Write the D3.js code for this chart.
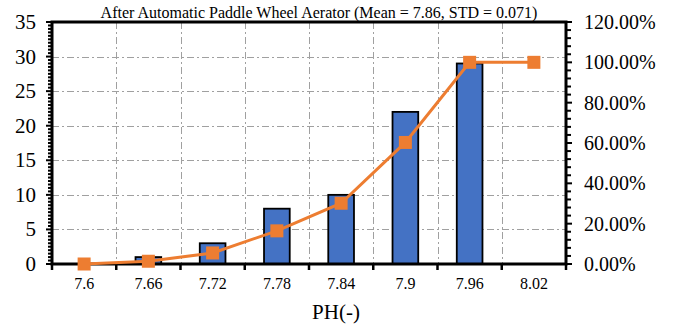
<!DOCTYPE html>
<html>
<head>
<meta charset="utf-8">
<script src="https://cdn.jsdelivr.net/npm/d3@7/dist/d3.min.js"></script>
<style>
  html, body { margin: 0; padding: 0; background: #fff; }
  svg { display: block; }
  text { font-family: "Liberation Serif", "Times New Roman", serif; fill: #000; }
</style>
</head>
<body>
<svg id="chart" width="673" height="324"></svg>
<script>
// pH histogram with cumulative percentage
const categories = ["7.6", "7.66", "7.72", "7.78", "7.84", "7.9", "7.96", "8.02"];
const counts = [0, 1, 3, 8, 10, 22, 29, 0];
const cumulativePct = [0, 1.37, 5.48, 16.44, 30.14, 60.27, 100, 100];
const leftTicks = [0, 5, 10, 15, 20, 25, 30, 35];
const rightTicks = [0, 20, 40, 60, 80, 100, 120];
const titleText = "After Automatic Paddle Wheel Aerator (Mean = 7.86, STD = 0.071)";
const xTitle = "PH(-)";

const svg = d3.select("#chart");
const m = { left: 52, right: 566, top: 22, bottom: 264 };

const x = d3.scaleBand().domain(categories).range([m.left, m.right]).paddingInner(0).paddingOuter(0);
const yL = d3.scaleLinear().domain([0, 35]).range([m.bottom, m.top]);
const yR = d3.scaleLinear().domain([0, 120]).range([m.bottom, m.top]);

const grid = svg.append("g").attr("stroke", "#a0a0a0").attr("stroke-width", 1)
  .attr("stroke-dasharray", "7,3,2,3").attr("fill", "none");
// horizontal grid
leftTicks.filter(v => v > 0 && v < 35).forEach(v => {
  grid.append("line").attr("x1", m.left).attr("x2", m.right)
    .attr("y1", Math.round(yL(v)) + 0.5).attr("y2", Math.round(yL(v)) + 0.5);
});
// vertical grid at category boundaries
categories.slice(1).forEach(c => {
  const gx = Math.round(x(c)) + 0.5;
  grid.append("line").attr("x1", gx).attr("x2", gx).attr("y1", m.top).attr("y2", m.bottom);
});

// bars
const barW = x.bandwidth() * 0.4;
svg.append("g").selectAll("rect").data(counts).join("rect")
  .attr("x", (d, i) => x(categories[i]) + (x.bandwidth() - barW) / 2)
  .attr("y", d => yL(d))
  .attr("width", barW)
  .attr("height", d => yL(0) - yL(d))
  .attr("fill", "#4472C4")
  .attr("stroke", d => d > 0 ? "#000" : "none")
  .attr("stroke-width", 1.8);

// left axis: minor/major ticks
const axL = svg.append("g");
d3.range(0, 35.01, 0.5).forEach(v => {
  const major = v % 5 === 0;
  axL.append("line").attr("x1", m.left).attr("x2", m.left - (major ? 6 : 4))
    .attr("y1", yL(v)).attr("y2", yL(v)).attr("stroke", "#000").attr("stroke-width", 2);
});
axL.selectAll("text").data(leftTicks).join("text")
  .attr("x", 36).attr("y", d => yL(d) + 7)
  .attr("text-anchor", "end").attr("font-size", 21).text(d => d);

// right axis ticks
const axR = svg.append("g");
d3.range(0, 120.01, 4).forEach(v => {
  const major = v % 20 === 0;
  axR.append("line").attr("x1", m.right).attr("x2", m.right + (major ? 6 : 5))
    .attr("y1", yR(v)).attr("y2", yR(v)).attr("stroke", "#000").attr("stroke-width", 2);
});
axR.selectAll("text").data(rightTicks).join("text")
  .attr("x", 584).attr("y", d => yR(d) + 7)
  .attr("text-anchor", "start").attr("font-size", 20).text(d => d.toFixed(2) + "%");

// bottom ticks at category boundaries
const axB = svg.append("g");
const bounds = categories.map(c => x(c)).concat([m.right]);
bounds.forEach(bx => {
  axB.append("line").attr("x1", bx).attr("x2", bx).attr("y1", m.bottom).attr("y2", m.bottom + 6)
    .attr("stroke", "#000").attr("stroke-width", 2.5);
});
axB.selectAll("text").data(categories).join("text")
  .attr("x", d => x(d) + x.bandwidth() / 2).attr("y", 289)
  .attr("text-anchor", "middle").attr("font-size", 16).text(d => d);

// frame
svg.append("rect").attr("x", m.left).attr("y", m.top)
  .attr("width", m.right - m.left).attr("height", m.bottom - m.top)
  .attr("fill", "none").attr("stroke", "#000").attr("stroke-width", 3);

// cumulative line
const lineGen = d3.line()
  .x((d, i) => x(categories[i]) + x.bandwidth() / 2)
  .y(d => yR(d));
svg.append("path").datum(cumulativePct).attr("d", lineGen)
  .attr("fill", "none").attr("stroke", "#ED7D31").attr("stroke-width", 3);
const ms = 13;
svg.append("g").selectAll("rect").data(cumulativePct).join("rect")
  .attr("x", (d, i) => x(categories[i]) + x.bandwidth() / 2 - ms / 2)
  .attr("y", d => yR(d) - ms / 2)
  .attr("width", ms).attr("height", ms)
  .attr("fill", "#ED7D31");

// titles
svg.append("text").attr("x", 319).attr("y", 18).attr("text-anchor", "middle")
  .attr("font-size", 16).text(titleText);
svg.append("text").attr("x", 336).attr("y", 319).attr("text-anchor", "middle")
  .attr("font-size", 21).text(xTitle);
</script>
</body>
</html>
